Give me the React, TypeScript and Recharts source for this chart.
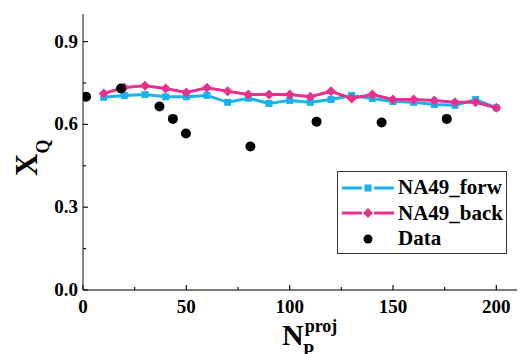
import {
  ComposedChart, Line, Scatter, XAxis, YAxis,
} from "recharts";

const FONT = "'Liberation Serif', 'Times New Roman', Times, serif";
const CYAN = "#1AB2EA";
const PINK = "#E8308C";
const FRAME = "#7a7a7a";

// model curves, N_P^proj = 10..200
const npModel = [10, 20, 30, 40, 50, 60, 70, 80, 90, 100, 110, 120, 130, 140, 150, 160, 170, 180, 190, 200];
const xqForw = [0.698, 0.705, 0.708, 0.700, 0.700, 0.705, 0.680, 0.695, 0.676, 0.687, 0.680, 0.690, 0.705, 0.694, 0.683, 0.680, 0.672, 0.669, 0.690, 0.660];
const xqBack = [0.712, 0.734, 0.740, 0.730, 0.716, 0.733, 0.720, 0.708, 0.708, 0.708, 0.700, 0.720, 0.694, 0.708, 0.690, 0.690, 0.687, 0.680, 0.680, 0.660];

// measured points
const npData = [1.5, 18.4, 37, 43.5, 49.8, 81, 113, 144.5, 176];
const xqData = [0.70, 0.73, 0.665, 0.62, 0.567, 0.52, 0.61, 0.607, 0.62];

const xTicks = [0, 25, 50, 75, 100, 125, 150, 175, 200];
const yTicks = [0, 0.15, 0.3, 0.45, 0.6, 0.75, 0.9];

const forwData = npModel.map((x, i) => ({ x, y: xqForw[i] }));
const backData = npModel.map((x, i) => ({ x, y: xqBack[i] }));
const pointData = npData.map((x, i) => ({ x, y: xqData[i] }));

const isMajorX = (v: number) => v % 50 === 0;
const isMajorY = (v: number) => Math.abs(v / 0.3 - Math.round(v / 0.3)) < 1e-6;

function BottomTick({ x, y, payload }: any) {
  const major = isMajorX(payload.value);
  return (
    <g>
      <line x1={x} y1={y} x2={x} y2={y - (major ? 5 : 3)} stroke="#111" strokeWidth={1.2} />
      {major && (
        <text x={x} y={y + 23} textAnchor="middle" style={{ fontFamily: FONT }} fontWeight="bold" fontSize={19} fill="#000">
          {payload.value}
        </text>
      )}
    </g>
  );
}

function TopTick({ x, y, payload }: any) {
  const major = isMajorX(payload.value);
  return <line x1={x} y1={y} x2={x} y2={y + (major ? 5 : 3)} stroke="#111" strokeWidth={1.2} />;
}

function LeftTick({ x, y, payload }: any) {
  const major = isMajorY(payload.value);
  return (
    <g>
      <line x1={x} y1={y} x2={x + (major ? 5 : 3)} y2={y} stroke="#111" strokeWidth={1.2} />
      {major && (
        <text x={x - 5} y={y + 6} textAnchor="end" style={{ fontFamily: FONT }} fontWeight="bold" fontSize={19} fill="#000">
          {payload.value.toFixed(1)}
        </text>
      )}
    </g>
  );
}

function RightTick({ x, y, payload }: any) {
  const major = isMajorY(payload.value);
  return <line x1={x} y1={y} x2={x - (major ? 5 : 3)} y2={y} stroke="#111" strokeWidth={1.2} />;
}

function Square({ cx, cy }: any) {
  if (cx == null || cy == null) return null;
  return <rect x={cx - 3.5} y={cy - 3.5} width={7} height={7} fill={CYAN} />;
}

function Diamond({ cx, cy }: any) {
  if (cx == null || cy == null) return null;
  const r = 5;
  return <polygon points={`${cx},${cy - r} ${cx + r},${cy} ${cx},${cy + r} ${cx - r},${cy}`} fill={PINK} />;
}

function Dot({ cx, cy }: any) {
  return <circle cx={cx} cy={cy} r={5} fill="#000" />;
}

function XTitle({ viewBox }: any) {
  const cx = viewBox.x + viewBox.width / 2;
  return (
    <g style={{ fontFamily: FONT }} fontWeight="bold" fill="#000">
      <text x={cx - 18} y={345} fontSize={30}>
        N
        <tspan fontSize={18} dy={-13} dx={1}>proj</tspan>
      </text>
      <text x={cx + 3} y={357} fontSize={18}>P</text>
    </g>
  );
}

function YTitle() {
  return (
    <text transform="translate(37,176) rotate(-90)" style={{ fontFamily: FONT }} fontWeight="bold" fill="#000">
      <tspan fontSize={31}>X</tspan>
      <tspan fontSize={18} dy={12}>Q</tspan>
    </text>
  );
}

const legendRows = [
  { label: "NA49_forw", kind: "sq", color: CYAN },
  { label: "NA49_back", kind: "di", color: PINK },
  { label: "Data", kind: "dot", color: "#000" },
];

function LegendBox() {
  return (
    <div style={{
      position: "absolute", left: 337, top: 171, width: 170, height: 83,
      border: "1.5px solid #333", background: "#fff", boxSizing: "border-box", paddingTop: 3,
    }}>
      {legendRows.map((r) => (
        <div key={r.label} style={{ display: "flex", alignItems: "center", height: 25.5 }}>
          <svg width={60} height={20} style={{ flex: "none" }}>
            {r.kind !== "dot" && (
              <>
                <line x1={4} y1={10} x2={24} y2={10} stroke={r.color} strokeWidth={3} />
                <line x1={36} y1={10} x2={56} y2={10} stroke={r.color} strokeWidth={3} />
              </>
            )}
            {r.kind === "sq" && <rect x={26.5} y={6.5} width={7} height={7} fill={r.color} />}
            {r.kind === "di" && <polygon points="30,5 35,10 30,15 25,10" fill={r.color} />}
            {r.kind === "dot" && <circle cx={30} cy={10} r={4.5} fill="#000" />}
          </svg>
          <span style={{ fontFamily: FONT, fontWeight: "bold", fontSize: 21, color: "#000", lineHeight: 1 }}>
            {r.label}
          </span>
        </div>
      ))}
    </div>
  );
}

export default function App() {
  return (
    <div style={{ position: "absolute", left: 0, top: 0, width: 521, height: 354, background: "#fff", fontFamily: FONT }}>
      <ComposedChart width={521} height={354} margin={{ top: 14, right: 4, bottom: 0, left: 0 }}>
        <XAxis
          xAxisId="b" dataKey="x" type="number" domain={[0, 210]} ticks={xTicks}
          orientation="bottom" height={64} tickSize={0} tickMargin={0}
          tick={<BottomTick />} axisLine={{ stroke: FRAME, strokeWidth: 1.8 }}
          tickLine={false} interval={0} allowDataOverflow
          label={<XTitle />}
        />
        <XAxis
          xAxisId="t" dataKey="x" type="number" domain={[0, 210]} ticks={xTicks}
          orientation="top" height={0} tickSize={0} tickMargin={0}
          tick={<TopTick />} axisLine={{ stroke: FRAME, strokeWidth: 1.8 }}
          tickLine={false} interval={0} allowDataOverflow
        />
        <YAxis
          yAxisId="l" type="number" domain={[0, 1]} ticks={yTicks}
          orientation="left" width={83} tickSize={0} tickMargin={0}
          tick={<LeftTick />} axisLine={{ stroke: FRAME, strokeWidth: 1.8 }}
          tickLine={false} interval={0} allowDataOverflow
          label={<YTitle />}
        />
        <YAxis
          yAxisId="r" type="number" domain={[0, 1]} ticks={yTicks}
          orientation="right" width={0} tickSize={0} tickMargin={0}
          tick={<RightTick />} axisLine={{ stroke: FRAME, strokeWidth: 1.8 }}
          tickLine={false} interval={0} allowDataOverflow
        />
        <Line
          xAxisId="b" yAxisId="l" data={forwData} dataKey="y" type="linear"
          stroke={CYAN} strokeWidth={3} dot={<Square />} activeDot={false}
          isAnimationActive={false}
        />
        <Line
          xAxisId="b" yAxisId="l" data={backData} dataKey="y" type="linear"
          stroke={PINK} strokeWidth={3} dot={<Diamond />} activeDot={false}
          isAnimationActive={false}
        />
        <Scatter
          xAxisId="b" yAxisId="l" data={pointData} dataKey="y"
          shape={<Dot />} isAnimationActive={false}
        />
      </ComposedChart>
      <LegendBox />
    </div>
  );
}
